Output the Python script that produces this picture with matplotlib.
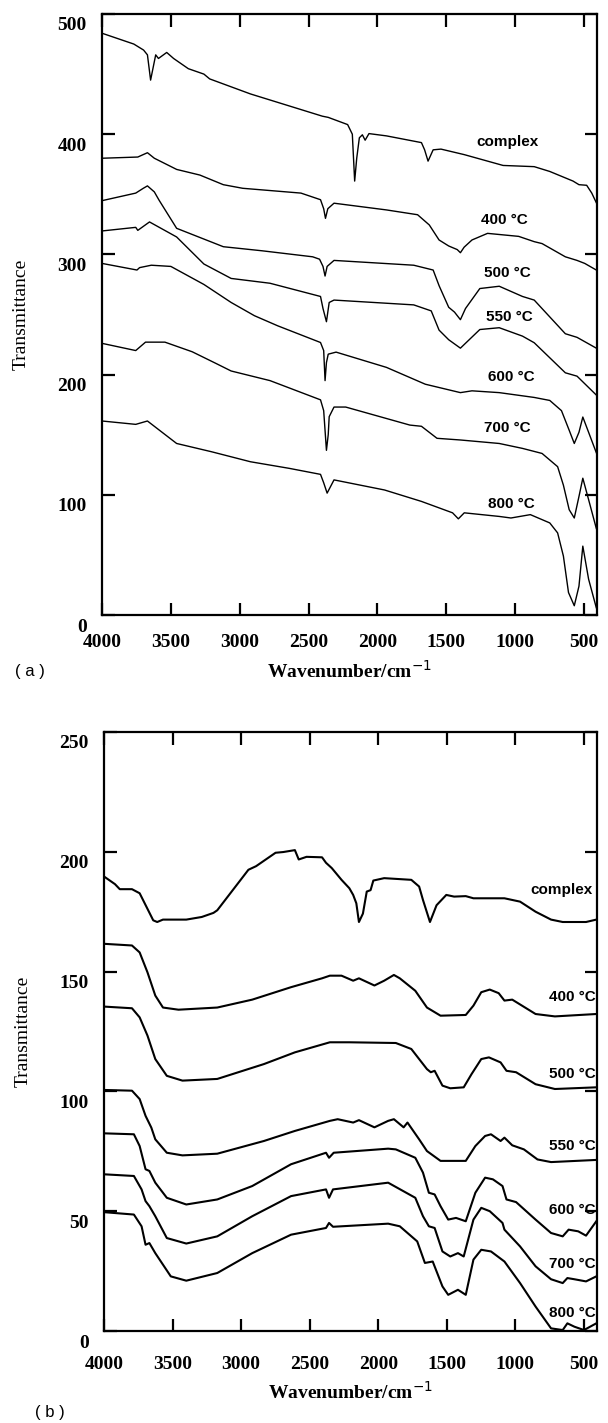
import matplotlib
matplotlib.use("Agg")
import matplotlib.pyplot as plt
import matplotlib.transforms as mtransforms

# ---- panel (a) spectra: wavenumber (cm-1) / transmittance ----
wn_a_complex = [4000, 3769, 3698, 3670, 3647, 3610, 3590, 3530, 3480, 3373, 3260, 3218, 2922, 2400, 2357,
                2216, 2182, 2165, 2150, 2131, 2109, 2089, 2061, 1934, 1680, 1657, 1632, 1595, 1538, 1369,
                1087, 861, 748, 579, 536, 480, 443, 410]
t_a_complex = [484, 475, 470, 466, 445, 466, 463, 468, 463, 454.5, 450, 446, 433.5, 415, 414,
               408, 400, 361, 380, 397, 399.5, 395, 400.5, 398.6, 393, 387, 377.6, 387, 387.6, 383,
               374, 373, 369, 361, 358, 357.5, 351, 343]

wn_a_400 = [4000, 3740, 3670, 3620, 3458, 3289, 3119, 2978, 2555, 2413, 2390, 2377, 2360, 2315, 1934,
            1708, 1623, 1552, 1482, 1420, 1397, 1370, 1313, 1200, 974, 861, 804, 635, 550, 494, 410]
t_a_400 = [380, 381, 384.6, 380, 370.7, 366, 358, 355, 351, 345.5, 338, 330, 338, 342.6, 337,
           333, 324.5, 312, 307, 304, 301.4, 306, 312, 317.5, 315, 310.6, 309, 298, 295, 292.5, 287]

wn_a_500 = [4000, 3755, 3700, 3670, 3620, 3585, 3458, 3119, 2837, 2470, 2420, 2395, 2380, 2365, 2315,
            1736, 1595, 1552, 1482, 1440, 1397, 1360, 1256, 1115, 946, 861, 635, 550, 410]
t_a_500 = [344.7, 351, 355, 357, 352, 345, 321.7, 306.4, 303, 298, 296, 290, 282, 290, 295,
           291, 287, 274, 256, 252, 245.7, 255, 271.6, 273.5, 265, 262, 234, 231, 222]

wn_a_550 = [4000, 3755, 3740, 3655, 3458, 3260, 3062, 2780, 2413, 2395, 2370, 2350, 2315, 1736, 1609,
            1552, 1482, 1397, 1256, 1115, 946, 861, 635, 550, 410]
t_a_550 = [319.5, 322.5, 320, 327, 314.5, 292, 280, 276, 265, 255, 244, 260, 262, 258, 253,
           237, 229, 222, 237.5, 239, 232, 226.5, 201.5, 198.7, 183]

wn_a_600 = [4000, 3746, 3727, 3642, 3500, 3260, 3062, 2893, 2724, 2413, 2390, 2380, 2370, 2357, 2300,
            1934, 1652, 1397, 1313, 1115, 861, 748, 663, 607, 570, 536, 508, 466, 410]
t_a_600 = [292.5, 287, 289, 291, 290, 275, 260, 249, 240.6, 226.7, 220, 195, 210, 217, 218.7,
           206, 192, 185, 186.5, 185, 181, 178.5, 170, 153.7, 142.7, 152, 164.7, 152, 135]

wn_a_700 = [4000, 3755, 3684, 3543, 3345, 3176, 3062, 2780, 2413, 2390, 2370, 2357, 2350, 2315, 2230,
            1764, 1680, 1567, 1397, 1115, 946, 804, 691, 649, 607, 570, 536, 508, 466, 410]
t_a_700 = [226, 220, 227, 227, 219, 209.5, 203, 195, 179, 170, 137, 150, 165, 173, 173,
           158, 157, 147, 145.6, 142.7, 138.6, 134.4, 123.4, 108, 87.6, 80.7, 98.6, 113.8, 96, 72]

wn_a_800 = [4000, 3755, 3670, 3458, 3204, 2922, 2640, 2413, 2390, 2365, 2315, 1948, 1680, 1454, 1412,
            1369, 1115, 1030, 889, 748, 691, 649, 612, 570, 536, 508, 466, 410]
t_a_800 = [161.4, 158.6, 161.4, 142.7, 135.8, 127.5, 122, 117, 110, 101.4, 112.4, 104, 94.5, 85, 80,
           85, 82, 80.7, 83.5, 76.6, 68.3, 49, 18.7, 7.7, 24, 57.3, 29.8, 6]

# ---- panel (b) spectra ----
wn_b_complex = [4000, 3920, 3885, 3796, 3740, 3641, 3612, 3570, 3400, 3287, 3202, 3174, 2947, 2891, 2749,
                2693, 2608, 2580, 2523, 2410, 2381, 2339, 2268, 2211, 2183, 2160, 2141, 2112, 2084, 2056,
                2036, 1957, 1759, 1702, 1674, 1623, 1575, 1504, 1447, 1362, 1306, 1080, 966, 853, 740,
                655, 485, 410]
t_b_complex = [189.7, 186.5, 184.4, 184.4, 182.7, 171.4, 170.7, 171.7, 171.7, 172.8, 174.5, 175.6, 192.5, 194, 199.6,
               199.9, 200.7, 196.8, 197.9, 197.7, 195.4, 193.2, 188.3, 184.8, 182, 178.5, 170.7, 174.2, 183.4, 184,
               188, 189, 188.3, 185.5, 179.9, 170.7, 177.7, 182, 181.3, 181.5, 180.6, 180.6, 179.2, 175, 171.7,
               170.7, 170.7, 171.7]

wn_b_400 = [4000, 3796, 3740, 3683, 3626, 3570, 3457, 3174, 2919, 2636, 2410, 2353, 2268, 2183, 2141,
            2028, 1957, 1886, 1843, 1730, 1645, 1546, 1362, 1306, 1249, 1187, 1122, 1080, 1023, 853,
            712, 410]
t_b_400 = [161.6, 160.9, 158, 149.7, 140, 135, 134.1, 135, 138.3, 143.5, 147.2, 148.3, 148.3, 146.2, 147.2,
           144.2, 146.2, 148.6, 147.2, 142, 135, 131.6, 131.9, 135.8, 141.4, 142.5, 141, 137.9, 138.3, 132.3,
           131.3, 132.3]

wn_b_500 = [4000, 3796, 3740, 3683, 3626, 3542, 3428, 3174, 2834, 2608, 2353, 2211, 1872, 1759, 1702,
            1645, 1617, 1589, 1532, 1475, 1377, 1320, 1249, 1193, 1108, 1065, 995, 853, 712, 410]
t_b_500 = [135.4, 134.7, 130.9, 123.3, 113.5, 106.5, 104.5, 105.2, 111.4, 116.3, 120.5, 120.5, 120.2, 117.7, 113.5,
           109.3, 108, 108.6, 102.4, 101.3, 101.7, 107.2, 113.5, 114.2, 112.1, 108.6, 108, 103, 101, 101.7]

wn_b_550 = [4000, 3796, 3740, 3697, 3655, 3626, 3542, 3428, 3174, 2834, 2608, 2353, 2296, 2183, 2141,
            2028, 1928, 1886, 1815, 1787, 1702, 1645, 1546, 1362, 1292, 1221, 1178, 1108, 1080, 1023,
            938, 839, 740, 410]
t_b_550 = [100.6, 100.3, 96.8, 89.8, 84.9, 80, 74.4, 73.3, 74, 79.3, 83.5, 87.7, 88.4, 87, 88,
           85, 87.7, 88.4, 85, 87, 80, 75.1, 71, 71, 77.2, 81.4, 82.1, 79.3, 80.7, 77.5,
           75.8, 71.6, 70.5, 71.4]

wn_b_600 = [4000, 3782, 3740, 3697, 3669, 3626, 3542, 3400, 3174, 2919, 2636, 2381, 2359, 2325, 1928,
            1872, 1730, 1674, 1631, 1589, 1546, 1490, 1433, 1362, 1292, 1221, 1164, 1094, 1065, 995,
            853, 740, 655, 612, 542, 485, 410]
t_b_600 = [82.5, 82.1, 77.2, 67.5, 66.8, 61.9, 55.6, 52.8, 54.9, 60.5, 69.6, 74.4, 72.3, 74.4, 76.1,
           75.8, 72.3, 66.1, 57.7, 57, 52.1, 46.5, 47.2, 45.8, 57.7, 64, 63.3, 60.5, 54.9, 53.8,
           46.5, 40.9, 39.5, 42.3, 41.6, 39.8, 45.8]

wn_b_700 = [4000, 3782, 3726, 3697, 3669, 3626, 3542, 3400, 3174, 2919, 2636, 2381, 2359, 2330, 1928,
            1730, 1674, 1631, 1589, 1532, 1475, 1419, 1377, 1306, 1249, 1187, 1094, 1080, 966, 853,
            740, 655, 621, 570, 485, 410]
t_b_700 = [65.4, 64.7, 59.1, 54.2, 52.1, 47.9, 38.8, 36.5, 39.5, 47.9, 56.3, 59.1, 55.6, 59.1, 61.9,
           55.6, 47.9, 43.7, 43, 33.2, 31.1, 32.5, 31.1, 46.5, 51.4, 50, 45.1, 42.3, 35.3, 27,
           21.6, 20, 22.1, 21.6, 20.7, 22.8]

wn_b_800 = [4000, 3782, 3726, 3697, 3669, 3626, 3513, 3400, 3174, 2919, 2636, 2381, 2359, 2330, 1928,
            1843, 1716, 1660, 1603, 1532, 1490, 1419, 1362, 1306, 1249, 1178, 1080, 966, 853, 740,
            655, 621, 570, 500, 410]
t_b_800 = [49.6, 48.6, 43.7, 36, 36.7, 32.5, 22.8, 21, 24.2, 32.5, 40.2, 43, 45.1, 43.5, 44.8,
           43.7, 37.4, 28.4, 29, 18.6, 15.1, 17.2, 15.1, 29.8, 33.9, 33.2, 29, 20, 10.2, 1.1,
           0.4, 3.2, 1.8, 0.4, 3.2]

labels = ["complex", "400 °C", "500 °C", "550 °C", "600 °C", "700 °C", "800 °C"]
label_wn_a = [1053, 1078, 1058, 1044, 1030, 1053, 1030]
label_t_a = [393.5, 328.6, 284.5, 248, 198, 155.6, 92.3]
label_t_b = [184, 139.3, 107.2, 77.2, 50.4, 28.1, 7.7]

xticks = [4000, 3500, 3000, 2500, 2000, 1500, 1000, 500]
yticks_a = [0, 100, 200, 300, 400, 500]
yticks_b = [0, 50, 100, 150, 200, 250]

series_a = [(wn_a_complex, t_a_complex), (wn_a_400, t_a_400), (wn_a_500, t_a_500), (wn_a_550, t_a_550),
            (wn_a_600, t_a_600), (wn_a_700, t_a_700), (wn_a_800, t_a_800)]
series_b = [(wn_b_complex, t_b_complex), (wn_b_400, t_b_400), (wn_b_500, t_b_500), (wn_b_550, t_b_550),
            (wn_b_600, t_b_600), (wn_b_700, t_b_700), (wn_b_800, t_b_800)]

SERIF = "Liberation Serif"
SANS = "Liberation Sans"

fig = plt.figure(figsize=(6.08, 14.23), dpi=100)
ax_a = fig.add_axes([102 / 608, 1 - 615 / 1423, 495 / 608, 601 / 1423])
ax_b = fig.add_axes([104 / 608, 1 - 1331 / 1423, 493 / 608, 599 / 1423])


def style_axis(ax, yticks, ylim, xpad):
    ax.set_xlim(4000, 405)
    ax.set_ylim(*ylim)
    ax.set_xticks(xticks)
    ax.set_yticks(yticks)
    ax.tick_params(direction="in", length=9, width=1.6, top=True, right=True,
                   labelsize=14)
    ax.tick_params(axis="x", pad=xpad)
    ax.tick_params(axis="y", pad=11)
    for sp in ax.spines.values():
        sp.set_linewidth(1.6)
    for lab in ax.get_xticklabels() + ax.get_yticklabels():
        lab.set_fontfamily(SERIF)
        lab.set_fontweight("bold")
    # y labels sit a bit lower than their ticks in the original
    offset = mtransforms.ScaledTranslation(0, -10 / 100, fig.dpi_scale_trans)
    for lab in ax.get_yticklabels():
        lab.set_transform(lab.get_transform() + offset)
    ax.set_ylabel("Transmittance", fontfamily=SERIF, fontsize=14)
    ax.set_xlabel("Wavenumber/cm$^{-1}$", fontfamily=SERIF, fontsize=14,
                  fontweight="bold", labelpad=6)


for wn, t in series_a:
    ax_a.plot(wn, t, color="black", lw=1.0)
for lab, x, y in zip(labels, label_wn_a, label_t_a):
    ax_a.text(x, y, lab, fontfamily=SANS, fontweight="bold", fontsize=11, ha="center", va="center")
style_axis(ax_a, yticks_a, (0, 500), 14)
ax_a.yaxis.set_label_coords(-0.147, 0.5)

for wn, t in series_b:
    ax_b.plot(wn, t, color="black", lw=1.5)
for lab, y in zip(labels, label_t_b):
    ax_b.text(412 if lab != "complex" else 440, y, lab, fontfamily=SANS, fontweight="bold",
              fontsize=11, ha="right", va="center")
style_axis(ax_b, yticks_b, (0, 250), 18)
ax_b.yaxis.set_label_coords(-0.146, 0.5)

fig.text(30 / 608, 1 - 672 / 1423, "( a )", fontfamily=SANS, fontsize=12, ha="center", va="center")
fig.text(50 / 608, 1 - 1413 / 1423, "( b )", fontfamily=SANS, fontsize=12, ha="center", va="center")

fig.savefig("out.png", dpi=100)
